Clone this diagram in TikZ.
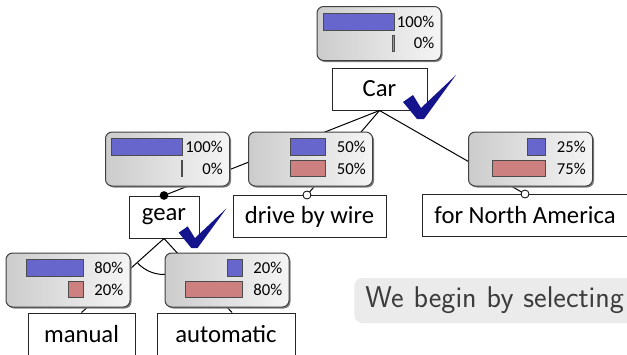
\documentclass[tikz,border=0pt]{standalone}
\usepackage{fontspec}
\newfontfamily\carl{Carlito}
\usetikzlibrary{calc}
\definecolor{barblue}{RGB}{102,102,204}
\definecolor{barred}{RGB}{204,128,128}
\definecolor{chk}{RGB}{20,20,140}
\definecolor{notefill}{RGB}{235,235,235}
\definecolor{notetext}{RGB}{60,60,60}
\tikzset{
 labelbox/.style={draw=black!85, fill=white, line width=0.75pt, inner sep=0pt, minimum height=31.5pt, font=\carl\fontsize{18.5}{22}\selectfont},
 gauge/.style={draw=black!75, line width=0.75pt, rounded corners=5pt, left color=black!20, right color=black!4, minimum width=93pt, minimum height=40.5pt, inner sep=0pt},
 gaugeshadow/.style={fill=black!50, rounded corners=5pt, minimum width=93pt, minimum height=40.5pt, inner sep=0pt},
 conn/.style={line width=0.75pt, black},
 bluebar/.style={fill=barblue, draw=black!70, line width=0.6pt},
 redbar/.style={fill=barred, draw=black!70, line width=0.6pt},
 pct/.style={font=\carl\fontsize{12.5}{14}\selectfont, anchor=east, inner sep=0pt},
 opendot/.style={circle, draw=black, fill=white, line width=0.6pt, minimum size=6pt, inner sep=0pt},
 fulldot/.style={circle, fill=black, minimum size=6.5pt, inner sep=0pt},
 notebox/.style={fill=notefill, rounded corners=6pt, text=notetext, font=\sffamily\fontsize{22.5}{26}\selectfont, minimum height=33.75pt, inner xsep=8.25pt, text width=260pt, align=left},
 checkmk/.pic={\fill[chk] (-17,-17) -- (-7,-24) -- (1,-11) -- (36,-44) -- (4,0) -- (-3,0) -- cycle;},
}
\newcommand{\gaugeat}[7]{%
 \node[gaugeshadow] (#1s) at (#2+1.5,#3+1.5) {};
 \node[gauge] (#1) at (#2,#3) {};
 \path[bluebar] ([shift={(77.5-#4,7)}]#1.north west) rectangle ([shift={(77.5,24)}]#1.north west);
 \path[redbar] ([shift={(77.5-#6,29)}]#1.north west) rectangle ([shift={(77.5,45)}]#1.north west);
 \node[pct] (#1a) at ([shift={(118,15.5)}]#1.north west) {#5};
 \node[pct] (#1b) at ([shift={(118,37)}]#1.north west) {#7};
}
\begin{document}
\begin{tikzpicture}[x=0.75pt,y=-0.75pt]
\useasboundingbox (0,0) rectangle (627,354);
\clip (0,0) rectangle (627,354);
% label nodes
\node[labelbox, minimum width=71.25pt] (car) at (379.5,89) {Car};
\node[labelbox, minimum width=52.5pt] (gear) at (164,217) {gear};
\node[labelbox, minimum width=114.75pt] (drive) at (309.5,216.5) {drive by wire};
\node[labelbox, minimum width=154.5pt] (na) at (525,215.5) {for North America};
\node[labelbox, minimum width=80.25pt] (manual) at (81.5,334) {manual};
\node[labelbox, minimum width=103.5pt] (auto) at (226,334) {automatic};
% connectors
\draw[conn] (car.south) -- (gear.north);
\draw[conn] (car.south) -- ([xshift=-1.9pt]drive.north);
\draw[conn] (car.south) -- (na.north);
\draw[conn] (gear.south) -- (manual.north);
\draw[conn] (gear.south) -- ([xshift=4.5pt]auto.north);
\draw[conn] (gear.south) ++(223.2:27pt) arc[start angle=223.2, end angle=313, radius=27pt];
% gauges
\gaugeat{gcar}{379}{33.5}{71}{100\%}{1.5}{0\%}
\gaugeat{ggear}{167.5}{159}{71}{100\%}{1.5}{0\%}
\gaugeat{gdrive}{310.5}{159}{35.5}{50\%}{35.5}{50\%}
\gaugeat{gna}{530.5}{159}{17.75}{25\%}{53.25}{75\%}
\gaugeat{gman}{68}{280}{56.8}{80\%}{14.2}{20\%}
\gaugeat{gauto}{227}{280}{14.2}{20\%}{56.8}{80\%}
% dots
\node[fulldot] (gdot) at (gear.north) {};
\node[opendot] (ddot) at ([xshift=-1.9pt]drive.north) {};
\node[opendot] (ndot) at (na.north) {};
% check marks
\pic at (420,119) {checkmk};
\pic[scale=0.9] at (194,248) {checkmk};
% note
\node[notebox, anchor=west] (note) at (354,300.5) {We begin by selecting};
\end{tikzpicture}
\end{document}
